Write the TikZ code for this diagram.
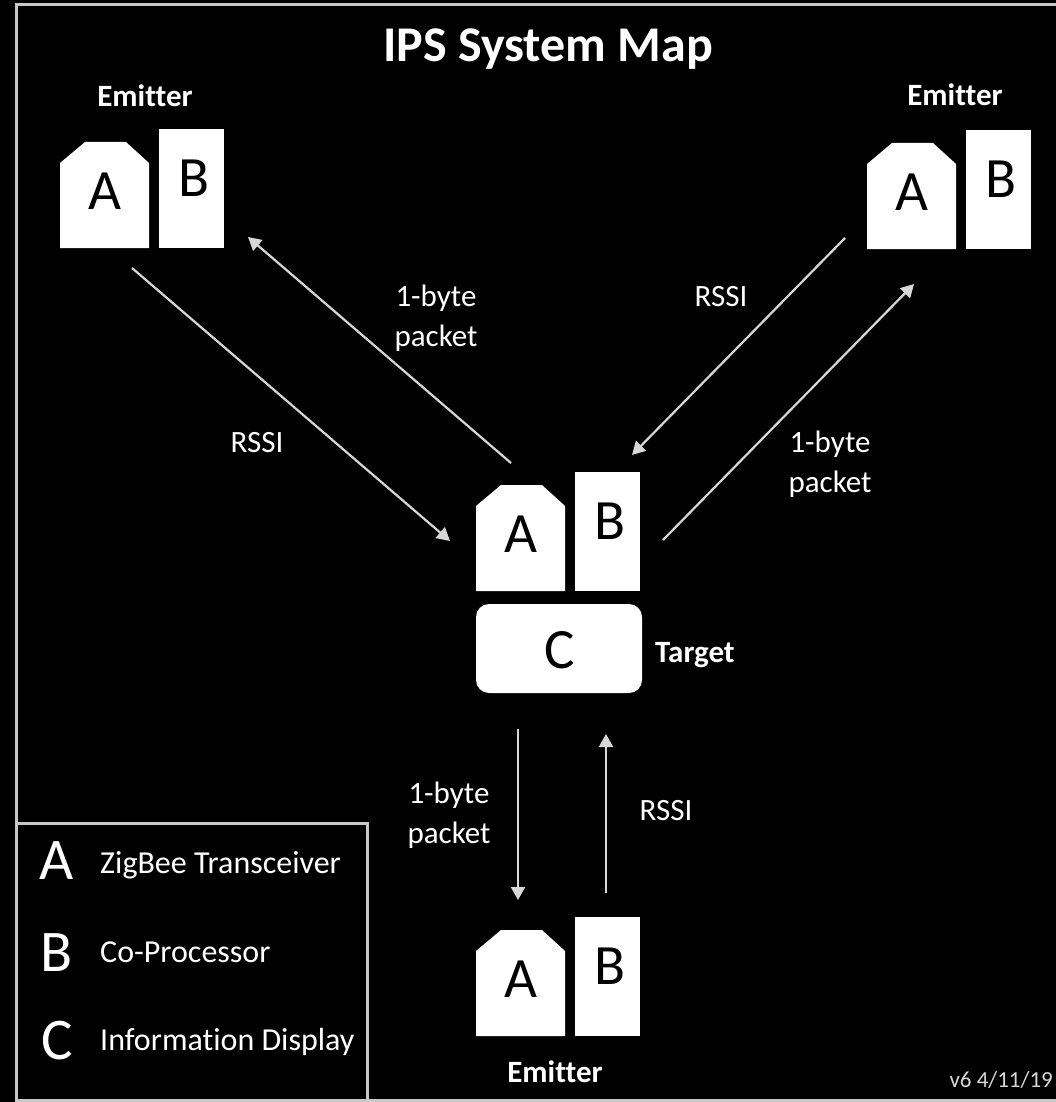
\documentclass[tikz,border=0pt]{standalone}
\usepackage{fontspec}
\setmainfont[Ligatures=NoCommon]{Carlito}
\usetikzlibrary{arrows.meta}
\definecolor{linegray}{RGB}{215,215,215}
\definecolor{framegray}{RGB}{200,200,200}
\tikzset{
  boxletter/.style={inner sep=0pt, text=black, font=\fontsize{57}{60}\selectfont},
  unitlabel/.style={inner sep=0pt, text=white, font=\bfseries\fontsize{31}{36}\selectfont},
  msg/.style={inner sep=0pt, text=white, align=center, font=\fontsize{31}{40}\selectfont},
  conn/.style={draw=linegray, line width=2.2pt, -{Triangle[length=13pt,width=14pt]}},
  legletter/.style={inner sep=0pt, text=white, font=\fontsize{59}{62}\selectfont},
  legtext/.style={inner sep=0pt, text=white, anchor=base west, font=\fontsize{32}{36}\selectfont},
  frameline/.style={draw=framegray, line width=3pt}
}
% #1 name, #2 left x of A, #3 bottom y of A and B
\newcommand\abunit[3]{%
  \begin{scope}[shift={(#2,#3)}]
    \fill[white] (0,0) -- (0,-85) -- (25,-106) -- (66,-106) -- (89,-85) -- (89,0) -- cycle;
    \fill[white] (99,0) rectangle (164,-119);
    \node[boxletter] (#1A) at (44.5,-57) {A};
    \node[boxletter] (#1B) at (134,-70) {B};
  \end{scope}}
\begin{document}
\begin{tikzpicture}[x=1pt,y=-1pt]
\useasboundingbox (0,0) rectangle (1056,1102);
\fill[black] (0,0) rectangle (1056,1102);
\draw[frameline] (16,5) rectangle (1075,1100);

% title
\node[inner sep=0pt, text=white, anchor=base, font=\bfseries\fontsize{50}{56}\selectfont] (title) at (548,62) {IPS System Map};

% units
\abunit{tl}{60}{248}
\abunit{tr}{867}{249}
\abunit{tg}{476}{591}
\abunit{bt}{476}{1036}

\node[unitlabel, anchor=base] (tlname) at (145,107) {Emitter};
\node[unitlabel, anchor=base] (trname) at (955,106) {Emitter};
\node[unitlabel, anchor=base] (btname) at (555,1082) {Emitter};

% target display
\fill[white, rounded corners=13pt] (476,604) rectangle (642,693);
\node[boxletter] (tgC) at (560,650) {C};
\node[unitlabel, anchor=base west] (tgname) at (655,662) {Target};

% connector end points
\coordinate (tlOut) at (132,268);
\coordinate (tgInL) at (450,541);
\coordinate (tgOutL) at (511,463);
\coordinate (tlIn) at (248,237);
\coordinate (trOut) at (845,238);
\coordinate (tgInR) at (632,455);
\coordinate (tgOutR) at (663,540);
\coordinate (trIn) at (914,284);
\coordinate (tgOutB) at (518,729);
\coordinate (btIn) at (518,900);
\coordinate (btOut) at (606,893);
\coordinate (tgInB) at (606,734);

\draw[conn] (tlOut) -- (tgInL);
\draw[conn] (tgOutL) -- (tlIn);
\draw[conn] (trOut) -- (tgInR);
\draw[conn] (tgOutR) -- (trIn);
\draw[conn] (tgOutB) -- (btIn);
\draw[conn] (btOut) -- (tgInB);

% connector labels
\node[msg] (m1) at (436,318) {1-byte\\packet};
\node[msg] (m2) at (257,443) {RSSI};
\node[msg] (m3) at (721,297) {RSSI};
\node[msg] (m4) at (830,464) {1-byte\\packet};
\node[msg] (m5) at (449,815) {1-byte\\packet};
\node[msg] (m6) at (666,811) {RSSI};

% legend
\draw[frameline] (16,823) rectangle (367,1100);
\node[legletter] (lA) at (57,861) {A};
\node[legletter] (lB) at (57,953) {B};
\node[legletter] (lC) at (57,1041) {C};
\node[legtext] (tA) at (100,873) {ZigBee Transceiver};
\node[legtext] (tB) at (100,962) {Co-Processor};
\node[legtext] (tC) at (100,1050) {Information Display};

% version
\node[inner sep=0pt, text=linegray, anchor=base east, font=\fontsize{23}{26}\selectfont] (ver) at (1053,1087) {v6 4/11/19};
\end{tikzpicture}
\end{document}
